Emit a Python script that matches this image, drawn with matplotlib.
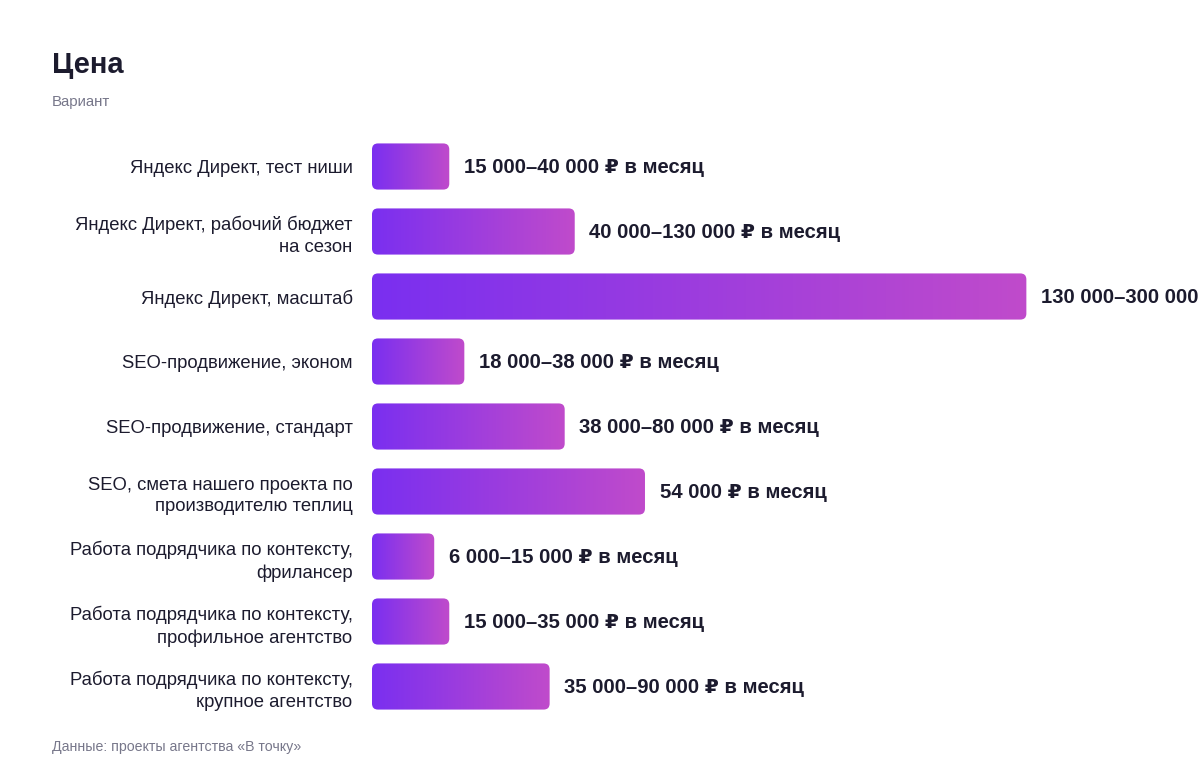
import matplotlib

matplotlib.use("Agg")
import matplotlib.pyplot as plt  # noqa: E402
import numpy as np  # noqa: E402
from matplotlib.colors import LinearSegmentedColormap  # noqa: E402
from matplotlib.patches import FancyBboxPatch  # noqa: E402

plt.rcParams["font.family"] = ["Liberation Sans", "DejaVu Sans"]

categories = [
    "Яндекс Директ, тест ниши",
    "Яндекс Директ, рабочий бюджет\nна сезон",
    "Яндекс Директ, масштаб",
    "SEO-продвижение, эконом",
    "SEO-продвижение, стандарт",
    "SEO, смета нашего проекта по\nпроизводителю теплиц",
    "Работа подрядчика по контексту,\nфрилансер",
    "Работа подрядчика по контексту,\nпрофильное агентство",
    "Работа подрядчика по контексту,\nкрупное агентство",
]
# lower bound of each price range, rubles per month
values = [15000, 40000, 130000, 18000, 38000, 54000, 6000, 15000, 35000]
value_labels = [
    "15 000–40 000 ₽ в месяц",
    "40 000–130 000 ₽ в месяц",
    "130 000–300 000 ₽ в месяц",
    "18 000–38 000 ₽ в месяц",
    "38 000–80 000 ₽ в месяц",
    "54 000 ₽ в месяц",
    "6 000–15 000 ₽ в месяц",
    "15 000–35 000 ₽ в месяц",
    "35 000–90 000 ₽ в месяц",
]

MIN_BAR = 12000  # short bars get a minimum visible width
XMAX = 165000
TEXT = "#1c1b2e"
GREY = "#77778a"
grad = LinearSegmentedColormap.from_list("bar", ["#7a2ff0", "#c04bcb"])

W, H, DPI = 12, 7.76, 100
fig = plt.figure(figsize=(W, H), dpi=DPI)
ax = fig.add_axes([372 / 1200, 1 - 719 / 776, 828 / 1200, (719 - 134) / 776])

n = len(categories)
ax.set_xlim(0, XMAX)
ax.set_ylim(n - 0.5, -0.5)

bar_h = 0.71
x_per_px = XMAX / 828
y_per_px = n / (719 - 134)
radius = 6 * x_per_px
pad_x = 2 * x_per_px  # bars run a few px past their value
gradient = np.linspace(0, 1, 256).reshape(1, -1)

for i, (v, lab) in enumerate(zip(values, value_labels)):
    w = max(v, MIN_BAR) + pad_x
    patch = FancyBboxPatch(
        (0, i - bar_h / 2), w, bar_h,
        boxstyle=f"round,pad=0,rounding_size={radius}",
        mutation_aspect=y_per_px / x_per_px,
        facecolor="none", edgecolor="none",
    )
    ax.add_patch(patch)
    im = ax.imshow(gradient, cmap=grad, aspect="auto",
                   extent=[0, w, i + bar_h / 2, i - bar_h / 2],
                   interpolation="bicubic")
    im.set_clip_path(patch)
    ax.annotate(lab, (w, i + 0.02), xytext=(10.5, 0), textcoords="offset points",
                ha="left", va="center", fontsize=14.6, fontweight="bold",
                color=TEXT, annotation_clip=False)

ax.set_xlim(0, XMAX)
ax.set_ylim(n - 0.5, -0.5)
ax.set_yticks(range(n))
ax.set_yticklabels(categories, fontsize=13.3, color=TEXT, linespacing=1.38)
ax.tick_params(axis="y", length=0, pad=14)
ax.set_xticks([])
for s in ax.spines.values():
    s.set_visible(False)

fig.text(52 / 1200, 1 - 65 / 776, "Цена", fontsize=21, fontweight="bold",
         color=TEXT, ha="left", va="center")
fig.text(52 / 1200, 1 - 102 / 776, "Вариант", fontsize=10.8,
         color=GREY, ha="left", va="center")
fig.text(52 / 1200, 1 - 747 / 776, "Данные: проекты агентства «В точку»",
         fontsize=10.2, color=GREY, ha="left", va="center")

fig.savefig("out.png", dpi=DPI, facecolor="white")
